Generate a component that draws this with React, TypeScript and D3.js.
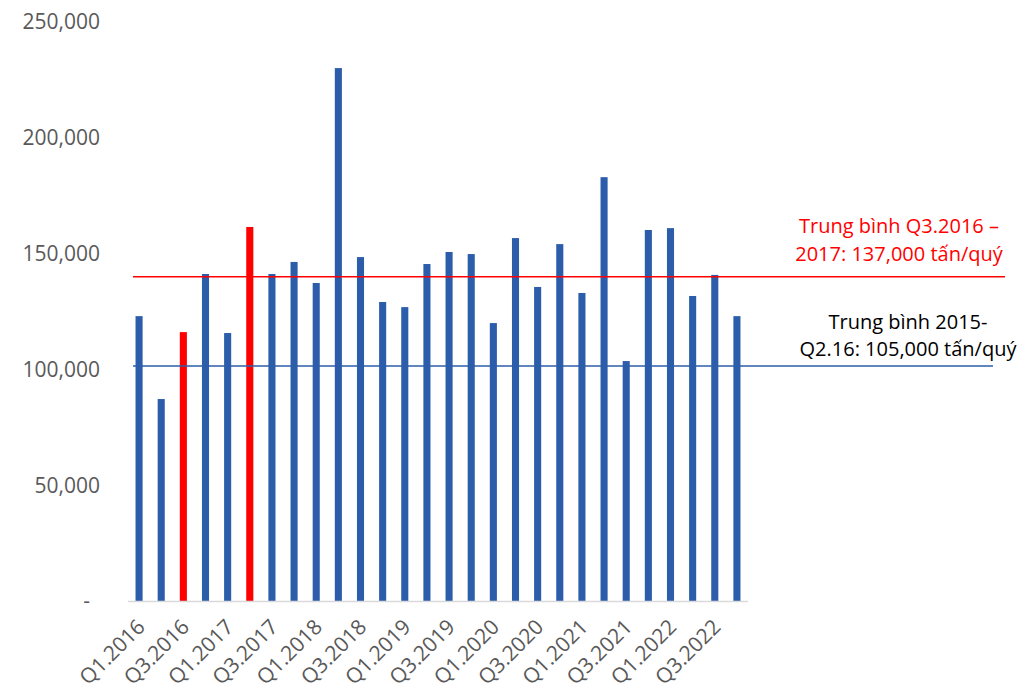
import * as d3 from 'd3';

const quarters = [
  'Q1.2016', 'Q2.2016', 'Q3.2016', 'Q4.2016',
  'Q1.2017', 'Q2.2017', 'Q3.2017', 'Q4.2017',
  'Q1.2018', 'Q2.2018', 'Q3.2018', 'Q4.2018',
  'Q1.2019', 'Q2.2019', 'Q3.2019', 'Q4.2019',
  'Q1.2020', 'Q2.2020', 'Q3.2020', 'Q4.2020',
  'Q1.2021', 'Q2.2021', 'Q3.2021', 'Q4.2021',
  'Q1.2022', 'Q2.2022', 'Q3.2022', 'Q4.2022',
];

const volumes = [
  123000, 87200, 116100, 141200,
  115700, 161500, 141200, 146400,
  137300, 230100, 148500, 129100,
  126900, 145500, 150700, 149800,
  120000, 156700, 135600, 154100,
  133000, 183000, 103600, 160200,
  161000, 131700, 140800, 123000,
];

const highlighted = ['Q3.2016', 'Q2.2017'];

const yTicks = [0, 50000, 100000, 150000, 200000, 250000];

const avgRecent = 140000;
const avgOld = 101500;

const redLabel = ['Trung bình Q3.2016 –', '2017: 137,000 tấn/quý'];
const blackLabel = ['Trung bình 2015-', 'Q2.16: 105,000 tấn/quý'];

const W = 1026;
const H = 690;
const FONT = '"Open Sans", sans-serif';
const BLUE = '#2B5DAA';
const RED = '#FF0000';

export default function App() {
  const x = d3
    .scaleBand<string>()
    .domain(quarters)
    .range([128, 748])
    .paddingInner(0.68)
    .paddingOuter(0.34);
  const y = d3.scaleLinear().domain([0, 250000]).range([601, 22]);
  const fmt = d3.format(',');

  return (
    <svg
      width={W}
      height={H}
      style={{ position: 'absolute', left: 0, top: 0 }}
      fontFamily={FONT}
    >
      <rect width={W} height={H} fill="#fff" />

      {yTicks.map((t) => (
        <text
          key={t}
          x={t === 0 ? 90 : 100}
          y={y(t)}
          dy="0.35em"
          textAnchor="end"
          fontSize={21}
          fill="#595959"
        >
          {t === 0 ? '-' : fmt(t)}
        </text>
      ))}

      {quarters.map((q, i) => (
        <rect
          key={q}
          x={x(q)}
          y={y(volumes[i])}
          width={x.bandwidth()}
          height={y(0) - y(volumes[i])}
          fill={highlighted.includes(q) ? RED : BLUE}
        />
      ))}

      <line x1={128} x2={748} y1={y(0) + 0.5} y2={y(0) + 0.5} stroke="#D9D9D9" strokeWidth={1.5} />

      {quarters.map((q, i) =>
        i % 2 === 0 ? (
          <text
            key={q}
            transform={`translate(${(x(q) ?? 0) + x.bandwidth() / 2 + 2},${623}) rotate(-45)`}
            textAnchor="end"
            dy="0.35em"
            fontSize={21}
            fill="#595959"
          >
            {q}
          </text>
        ) : null
      )}

      <line x1={133} x2={1005} y1={y(avgRecent)} y2={y(avgRecent)} stroke={RED} strokeWidth={1.5} />
      <line x1={133} x2={993} y1={y(avgOld)} y2={y(avgOld)} stroke={BLUE} strokeWidth={1.5} />

      {redLabel.map((s, i) => (
        <text key={s} x={899} y={226 + i * 28} dy="0.35em" textAnchor="middle" fontSize={20} fill={RED}>
          {s}
        </text>
      ))}
      {blackLabel.map((s, i) => (
        <text key={s} x={908} y={322 + i * 27} dy="0.35em" textAnchor="middle" fontSize={20} fill="#000">
          {s}
        </text>
      ))}
    </svg>
  );
}
